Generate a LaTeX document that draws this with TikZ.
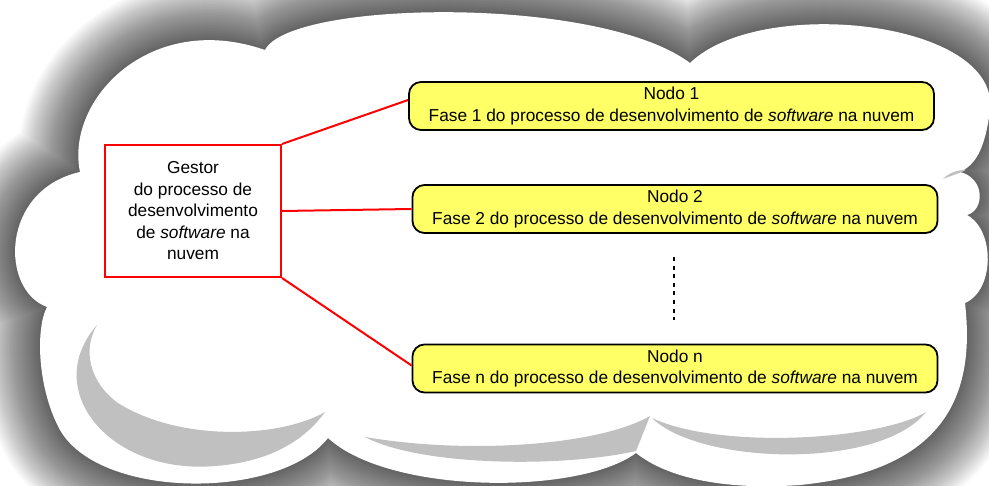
\documentclass[tikz,border=0pt]{standalone}
\usepackage{fontspec}
\setmainfont{Liberation Sans}
\definecolor{phasefill}{RGB}{255,255,102}
\definecolor{crescentgrey}{RGB}{192,192,192}
\newcommand\labelfont{\fontsize{17.3}{21.5}\selectfont}
\tikzset{
  cloudrim/.style={insert path={
    (80,172) .. controls (65,100) and (150,10) .. (265,50)
    .. controls (290,0) and (600,-5) .. (690,63)
    .. controls (760,-5) and (1000,20) .. (990,110)
    .. controls (985,150) and (975,165) .. (960,172)
    .. controls (985,178) and (985,210) .. (967,215)
    .. controls (995,230) and (995,290) .. (965,303)
    .. controls (975,390) and (950,470) .. (800,485)
    .. controls (730,490) and (670,480) .. (636,453)
    .. controls (580,495) and (390,495) .. (328,438)
    .. controls (280,500) and (100,500) .. (60,430)
    .. controls (38,390) and (35,330) .. (47,307)
    .. controls (0,290) and (0,190) .. (80,172) -- cycle}},
  crescent/.style={fill=crescentgrey, draw=none},
  phase/.style={draw=black, line width=1.8pt, fill=phasefill, rounded corners=12pt,
    minimum width=525pt, minimum height=48pt, inner sep=0pt, align=center, font=\labelfont},
  manager/.style={draw=red, line width=2pt, fill=white, minimum width=176pt,
    minimum height=132pt, inner sep=0pt, align=center, font=\labelfont},
  link/.style={red, line width=2pt},
  ellipsis/.style={black, line width=1.4pt, dash pattern=on 4pt off 4.6pt}
}
\begin{document}
\begin{tikzpicture}[x=1pt, y=-1pt]
  \useasboundingbox (0,0) rectangle (989,486);
  \clip (0,0) rectangle (989,486);
  \fill[white] (0,0) rectangle (989,486);

  % soft shadow around the cloud, built from stacked translucent strokes
  \foreach \w in {3,6,...,120} {
    \path[draw=black, line width=\w pt, draw opacity=0.018, line join=round, cloudrim];
  }
  % cloud body
  \path[fill=white, cloudrim];

  % grey crescents inside the lower lobes
  \fill[crescent] (97,325) .. controls (40,390) and (110,475) .. (215,466)
    .. controls (270,462) and (305,440) .. (325,412)
    .. controls (280,438) and (180,442) .. (118,403)
    .. controls (90,383) and (82,350) .. (97,325) -- cycle;
  \fill[crescent] (365,437) .. controls (420,466) and (560,468) .. (636,451)
    -- (650,416) .. controls (600,445) and (470,455) .. (365,437) -- cycle;
  \fill[crescent] (652,418) .. controls (700,465) and (880,470) .. (926,412)
    .. controls (880,440) and (720,450) .. (652,418) -- cycle;
  \fill[crescent] (943,179) .. controls (950,172) and (958,170) .. (966,170)
    .. controls (958,174) and (950,176) .. (943,179) -- cycle;

  % manager box and phase nodes
  \node[manager] (g) at (193,211) {Gestor\\do processo de\\desenvolvimento\\de \textit{software} na\\nuvem};
  \node[phase] (n1) at (671.5,106) {Nodo 1\\Fase 1 do processo de desenvolvimento de \textit{software} na nuvem};
  \node[phase] (n2) at (675,209) {Nodo 2\\Fase 2 do processo de desenvolvimento de \textit{software} na nuvem};
  \node[phase] (nn) at (675,368.5) {Nodo n\\Fase n do processo de desenvolvimento de \textit{software} na nuvem};

  % connectors
  \draw[link] (g.north east) -- ([yshift=6pt]n1.west);
  \draw[link] (g.east) -- (n2.west);
  \draw[link] (g.south east) -- ([yshift=3pt]nn.west);

  % vertical ellipsis between the phases
  \coordinate (dtop) at (674,257);
  \coordinate (dbot) at (674,320);
  \draw[ellipsis] (dtop) -- (dbot);
\end{tikzpicture}
\end{document}
